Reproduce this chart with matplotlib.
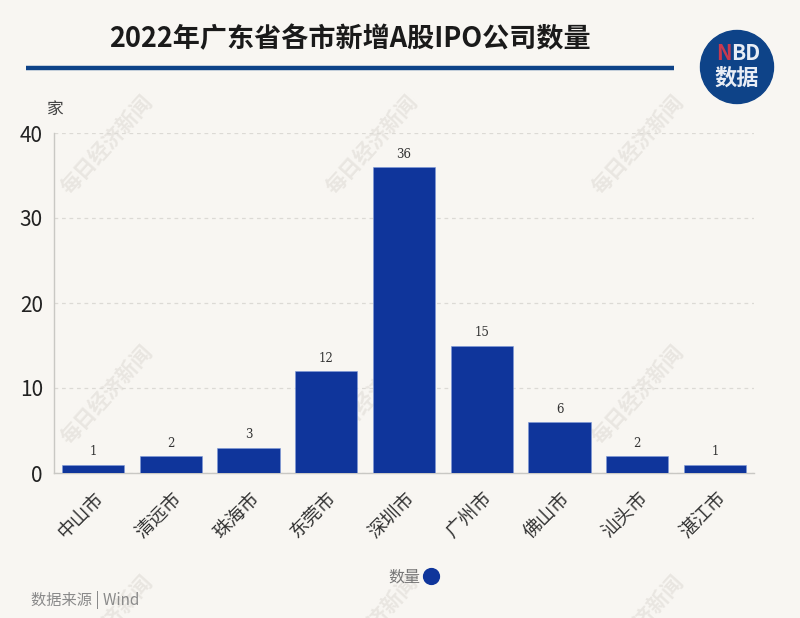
import matplotlib
matplotlib.use('Agg')
import matplotlib.pyplot as plt
from matplotlib.patches import Circle

plt.rcParams['font.family'] = ['Noto Sans CJK SC', 'DejaVu Sans']

cities = ['中山市', '清远市', '珠海市', '东莞市', '深圳市', '广州市', '佛山市', '汕头市', '湛江市']
counts = [1, 2, 3, 12, 36, 15, 6, 2, 1]
yticks = [0, 10, 20, 30, 40]

W, H = 800, 618
bg = '#f8f6f2'
blue = '#0f359b'
navy = '#0e4388'

fig = plt.figure(figsize=(W / 100, H / 100), dpi=100, facecolor=bg)

# whole figure overlay in pixel coords, for title, rule, logo, watermark
ov = fig.add_axes([0, 0, 1, 1], zorder=0)
ov.set_xlim(0, W)
ov.set_ylim(H, 0)
ov.axis('off')

for wx in [107, 372, 638]:
    for wy in [145, 395, 625]:
        ov.text(wx, wy, '每日经济新闻', color='#e9e6e1', fontsize=15, rotation=48,
                ha='center', va='center', weight='bold')

ax = fig.add_axes([54 / W, 1 - 473 / H, 700 / W, 340 / H], zorder=1)
ax.patch.set_alpha(0)
ax.bar(range(len(cities)), counts, width=0.8, color=blue, edgecolor='#7f9ad8', linewidth=0.4, zorder=3)
for i, v in enumerate(counts):
    ax.text(i, v + 0.75, str(v), ha='center', va='bottom', fontsize=8.5, color='#333333', family='DejaVu Serif')

ax.set_xlim(-0.5, 8.5)
ax.set_ylim(0, 40)
ax.set_yticks(yticks)
ax.set_xticks(range(len(cities)))
ax.set_xticklabels(cities, rotation=45, ha='right', rotation_mode='anchor', fontsize=13.5, color='#333333')
ax.tick_params(axis='x', length=0, pad=11)
ax.tick_params(axis='y', length=0, pad=8, labelsize=15, labelcolor='#222222')
ax.grid(axis='y', linestyle=(0, (3, 3)), color='#dcdad5', linewidth=0.9, zorder=1)
for s in ['top', 'right']:
    ax.spines[s].set_visible(False)
for s in ['left', 'bottom']:
    ax.spines[s].set_color('#c9c8c4')
    ax.spines[s].set_linewidth(1)

# header
ov.text(350, 39, '2022年广东省各市新增A股IPO公司数量', ha='center', va='center',
        fontsize=19.5, weight='bold', color='#1a1a1a')
ov.plot([26, 674], [68, 68], color=navy, lw=3.2, solid_capstyle='butt')
ov.text(55, 109, '家', ha='center', va='center', fontsize=12, color='#444444')

# logo
ov.add_patch(Circle((737, 67), 36.5, color=navy, zorder=3))
ov.text(724, 54, 'N', ha='center', va='center', fontsize=15, weight='bold', color='#c8394f', zorder=4)
ov.text(746, 54, 'BD', ha='center', va='center', fontsize=15, weight='bold', color='#e8edf5', zorder=4)
ov.text(737, 78, '数据', ha='center', va='center', fontsize=16, weight='bold', color='#e8edf5', zorder=4)

# legend and source
ov.text(404, 577, '数量', ha='center', va='center', fontsize=11.5, color='#777777')
ov.scatter([431], [576], s=130, color=blue, zorder=3)
ov.text(31, 600, '数据来源 | Wind', ha='left', va='center', fontsize=11, color='#8a8a8a')

fig.savefig('out.png', dpi=100, facecolor=bg)
